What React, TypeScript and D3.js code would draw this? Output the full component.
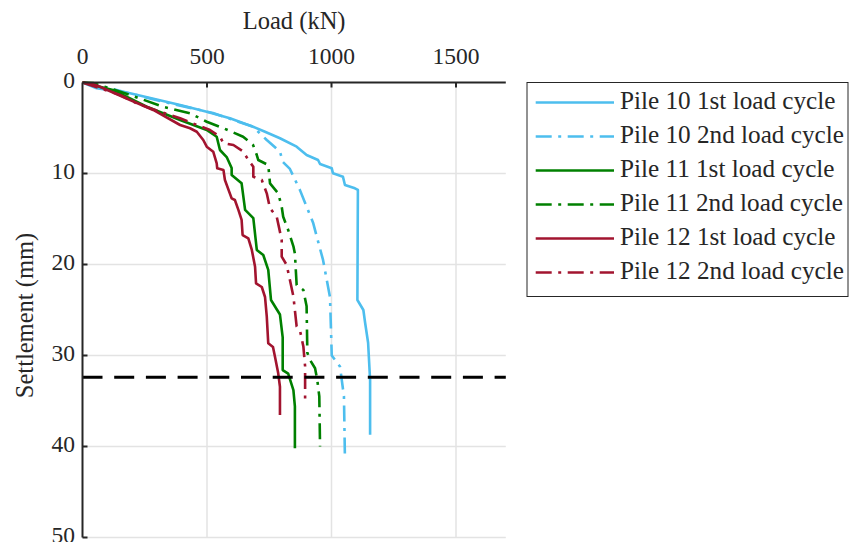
import React from "react";
import * as d3 from "d3";

const xTicks = [0, 500, 1000, 1500];
const yTicks = [0, 10, 20, 30, 40, 50];
const xDomain = [0, 1700];
const yDomain = [0, 50];
const limitSettlement = 32.4;

const legendLabels = [
  "Pile 10 1st load cycle",
  "Pile 10 2nd load cycle",
  "Pile 11 1st load cycle",
  "Pile 11 2nd load cycle",
  "Pile 12 1st load cycle",
  "Pile 12 2nd load cycle",
];
const seriesColors = ["#4DBEEE", "#4DBEEE", "#008000", "#008000", "#A2142F", "#A2142F"];
const seriesDashed = [false, true, false, true, false, true];

// [load kN, settlement mm]
const pile10c1: [number, number][] = [
  [0, 0], [57, 0.64], [191, 1.19], [392, 2.47], [499, 3.21], [592, 3.93], [685, 4.86],
  [733, 5.41], [793, 6.13], [860, 7.05], [900, 7.97], [946, 8.52], [954, 8.96],
  [1001, 9.43], [1006, 9.98], [1046, 10.35], [1054, 11.26], [1094, 11.63], [1106, 11.81],
  [1104, 23.9], [1128, 25.0], [1135, 26.4], [1147, 28.6], [1155, 32.7], [1155, 38.7],
];
const pile10c2: [number, number][] = [
  [0, 0], [60, 0.3], [323, 2.11], [524, 3.35], [685, 4.86], [740, 6.32], [793, 7.6],
  [805, 8.74], [833, 9.5], [873, 11.8], [926, 15.4], [966, 19.5], [994, 23.6],
  [1001, 30.0], [1034, 31.2], [1050, 34.5], [1054, 41.4],
];
const pile11c1: [number, number][] = [
  [0, 0], [122, 0.82], [258, 2.66], [392, 4.12], [499, 5.22], [539, 5.96], [552, 7.42],
  [579, 8.19], [599, 9.4], [599, 10.16], [639, 11.08], [653, 14.0], [686, 14.9],
  [700, 18.4], [726, 18.96], [746, 20.6], [757, 23.9], [793, 25.5], [804, 28.0],
  [804, 31.6], [826, 32.0], [847, 33.8], [853, 35.6], [853, 40.2],
];
const pile11c2: [number, number][] = [
  [0, 0], [42, 0.05], [191, 1.37], [323, 2.66], [432, 3.38], [499, 4.31], [564, 5.0],
  [645, 5.96], [685, 6.87], [700, 7.97], [706, 8.52], [746, 9.07], [753, 11.08],
  [786, 12.18], [800, 13.65], [806, 14.75], [826, 16.2], [847, 18.0], [853, 18.8],
  [860, 22.25], [887, 22.8], [900, 24.6], [903, 29.7], [914, 30.5], [934, 31.4],
  [943, 32.7], [951, 34.5], [954, 40.0],
];
const pile12c1: [number, number][] = [
  [0, 0], [40, 0.15], [70, 0.46], [191, 1.92], [284, 3.02], [392, 4.67], [432, 5.03],
  [459, 5.41], [485, 6.32], [499, 7.05], [525, 7.6], [539, 8.88], [541, 9.43],
  [566, 9.62], [572, 10.71], [599, 12.73], [612, 12.91], [626, 14.0], [639, 15.1],
  [643, 16.76], [666, 17.12], [680, 18.4], [693, 20.24], [697, 22.07], [720, 22.47],
  [733, 23.57], [740, 25.7], [746, 28.66], [765, 29.07], [773, 30.13], [786, 31.96],
  [793, 33.43], [793, 36.54],
];
const pile12c2: [number, number][] = [
  [0, 0], [151, 1.37], [218, 2.29], [311, 3.21], [392, 3.93], [459, 4.67], [512, 5.22],
  [552, 5.96], [566, 6.68], [606, 6.87], [646, 7.6], [666, 8.52], [686, 9.25],
  [686, 10.35], [720, 10.71], [740, 12.18], [753, 13.82], [780, 14.75], [800, 17.3],
  [800, 19.14], [820, 20.05], [833, 21.7], [847, 23.5], [860, 26.8], [873, 27.2],
  [887, 29.0], [894, 31.2], [894, 35.4],
];
const seriesData = [pile10c1, pile10c2, pile11c1, pile11c2, pile12c1, pile12c2];

const FONT = "'Liberation Serif', 'Times New Roman', serif";
const TXT = "#262626";

export default function App() {
  const W = 849, H = 542;
  const x = d3.scaleLinear().domain(xDomain).range([82.5, 505.8]);
  const y = d3.scaleLinear().domain(yDomain).range([82.5, 537.5]);
  const line = d3.line<[number, number]>().x(d => x(d[0])).y(d => y(d[1]));
  const dashDot = "16,6.5,3,6.5";

  const legX = 527, legY = 82.5, legW = 321, legH = 214;
  const rowY = (i: number) => 102.5 + i * 34;

  return (
    <svg width={W} height={H} style={{ position: "absolute", left: 0, top: 0, background: "#fff" }}>
      <rect x={0} y={0} width={W} height={H} fill="#fff" />
      {/* grid */}
      {xTicks.filter(t => t > 0).map(t => (
        <line key={"gx" + t} x1={x(t)} x2={x(t)} y1={y(0)} y2={y(50)} stroke="#e3e3e3" strokeWidth={1.5} />
      ))}
      {yTicks.filter(t => t > 0).map(t => (
        <line key={"gy" + t} x1={x(0)} x2={x(1700)} y1={y(t)} y2={y(t)} stroke="#e3e3e3" strokeWidth={1.5} />
      ))}
      {/* series */}
      {seriesData.map((d, i) => (
        <path key={"s" + i} d={line(d) || ""} fill="none" stroke={seriesColors[i]} strokeWidth={2.6}
          strokeDasharray={seriesDashed[i] ? dashDot : undefined} strokeLinejoin="round" />
      ))}
      {/* limit line */}
      <line x1={x(0)} x2={x(1700)} y1={y(limitSettlement)} y2={y(limitSettlement)} stroke="#000" strokeWidth={3} strokeDasharray="20,11.7" />
      {/* axes */}
      <line x1={x(0)} x2={x(1700)} y1={y(0)} y2={y(0)} stroke={TXT} strokeWidth={2} />
      <line x1={x(0)} x2={x(0)} y1={y(0)} y2={y(50)} stroke={TXT} strokeWidth={2} />
      {xTicks.filter(t => t > 0).map(t => (
        <line key={"tx" + t} x1={x(t)} x2={x(t)} y1={y(0)} y2={y(0) + 5} stroke={TXT} strokeWidth={2} />
      ))}
      {yTicks.filter(t => t > 0).map(t => (
        <line key={"ty" + t} x1={x(0)} x2={x(0) + 5} y1={y(t)} y2={y(t)} stroke={TXT} strokeWidth={2} />
      ))}
      {/* tick labels */}
      {xTicks.map(t => (
        <text key={"lx" + t} x={x(t)} y={63.5} textAnchor="middle" fontFamily={FONT} fontSize={23.5} fill={TXT}>{t}</text>
      ))}
      {yTicks.map(t => (
        <text key={"ly" + t} x={75} y={y(t) + 5} textAnchor="end" fontFamily={FONT} fontSize={23.5} fill={TXT}>{t}</text>
      ))}
      {/* axis titles */}
      <text x={x(850)} y={28.5} textAnchor="middle" fontFamily={FONT} fontSize={24.5} fill={TXT}>Load (kN)</text>
      <text transform={`translate(33,315.5) rotate(-90)`} textAnchor="middle" fontFamily={FONT} fontSize={24.5} fill={TXT}>Settlement (mm)</text>
      {/* legend */}
      <rect x={legX} y={legY} width={legW} height={legH} fill="#fff" stroke={TXT} strokeWidth={1} />
      {legendLabels.map((lab, i) => (
        <g key={"lg" + i}>
          <line x1={535.7} x2={614} y1={rowY(i)} y2={rowY(i)} stroke={seriesColors[i]} strokeWidth={2.6}
            strokeDasharray={seriesDashed[i] ? dashDot : undefined} />
          <text x={620} y={rowY(i) + 6} fontFamily={FONT} fontSize={25.2} fill={TXT}>{lab}</text>
        </g>
      ))}
    </svg>
  );
}
